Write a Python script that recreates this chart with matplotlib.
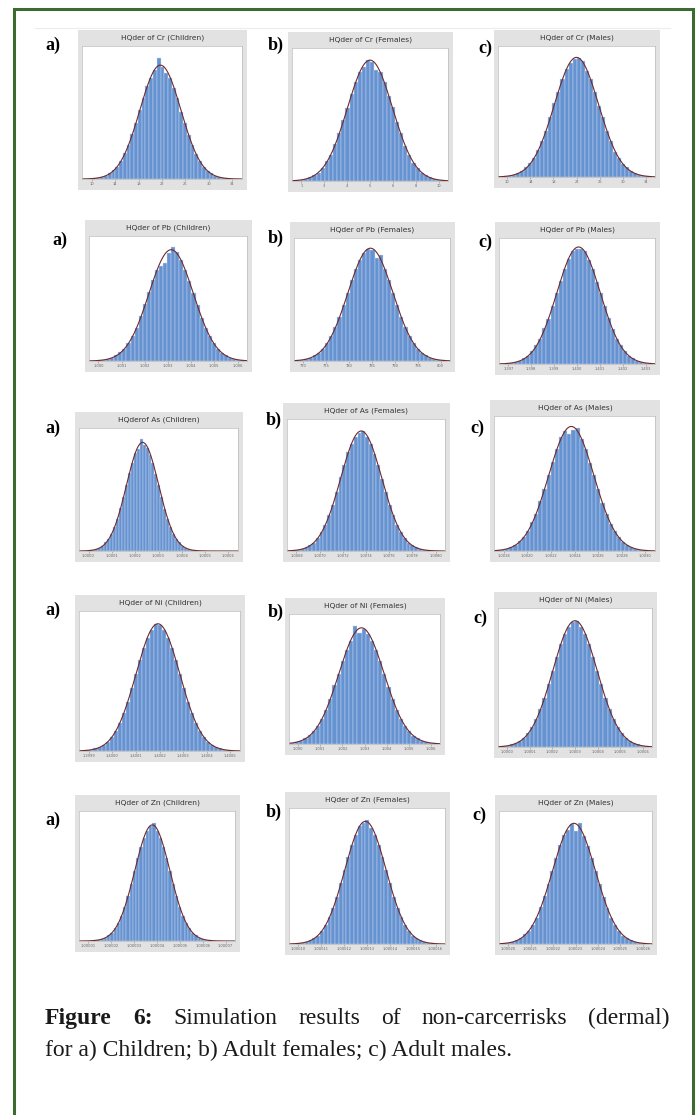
import numpy as np
import matplotlib
matplotlib.use('Agg')
import matplotlib.pyplot as plt
from matplotlib.patches import Rectangle

W, H = 700, 1115

# panel titles, row by row (Cr, Pb, As, Ni, Zn) x (Children, Females, Males)
titles = [
    'HQder of Cr (Children)', 'HQder of Cr (Females)', 'HQder of Cr (Males)',
    'HQder of Pb (Children)', 'HQder of Pb (Females)', 'HQder of Pb (Males)',
    'HQderof As (Children)', 'HQder of As (Females)', 'HQder of As (Males)',
    'HQder of Ni (Children)', 'HQder of Ni (Females)', 'HQder of Ni (Males)',
    'HQder of Zn (Children)', 'HQder of Zn (Females)', 'HQder of Zn (Males)',
]
panel_letters = ['a)', 'b)', 'c)']

# bar heights (relative frequency, % of peak)
cr_children = [0.5,1,2,3,5,8,11,16,23,30,40,50,62,72,83,90,97,108,100,95,90,81,72,60,50,39,30,22,16,11,7,5,3,2,1,0.5]
cr_females = [0.6,1,2,3,5,7,11,17,22,31,40,51,61,73,83,91,95,101,99,93,91,83,71,62,49,40,29,22,15,11,7,5,3,2,1,0.5]
cr_males = [0.5,1,2,3,5,8,12,16,23,30,39,50,62,71,82,91,96,99,100,97,89,82,71,60,50,39,30,21,16,11,8,5,3,2,1,0.6]
pb_children = [0.5,1,2,3,5,8,11,16,22,30,40,51,62,73,82,85,88,97,102,98,91,82,72,61,50,39,30,22,16,11,7,5,3,2,1,0.5]
pb_females = [0.6,1,2,3,5,7,11,16,22,30,39,50,61,72,82,90,97,100,99,92,95,82,72,61,50,39,30,22,16,11,7,5,3,2,1,0.6]
pb_males = [0.5,1,2,3,5,7,11,16,22,31,39,50,61,72,82,91,98,99,99,98,90,82,71,61,50,40,30,22,16,11,7,5,3,2,1,0.5]
as_children = [0.5,1,2,3,5,8,11,16,22,30,40,50,61,73,82,91,95,104,99,96,89,82,72,61,50,39,30,22,16,11,8,5,3,2,1,0.5]
as_females = [0.5,1,2,3,5,7,11,16,22,30,39,50,62,72,83,90,96,99,101,96,90,82,72,61,50,39,30,22,16,11,7,5,3,2,1,0.5]
as_males = [0.6,1,2,3,5,8,11,16,23,30,40,50,61,72,82,92,97,94,98,99,90,82,71,61,50,39,30,22,16,11,7,5,3,2,1,0.5]
ni_children = [0.5,1,2,3,5,7,11,16,22,30,39,50,61,72,82,90,96,101,100,96,90,82,72,61,50,39,30,22,16,11,7,5,3,2,1,0.5]
ni_females = [0.5,1,2,3,5,8,11,16,22,30,39,51,61,72,82,90,103,97,100,96,90,82,72,61,50,39,30,22,16,11,7,5,3,2,1,0.5]
ni_males = [0.5,1,2,3,5,7,11,16,22,30,39,50,61,72,82,90,96,100,101,96,90,82,72,61,50,39,30,22,16,11,7,5,3,2,1,0.6]
zn_children = [0.5,1,2,3,5,7,11,16,22,30,39,50,61,72,82,90,96,100,103,96,90,82,72,61,50,39,30,22,16,11,7,5,3,2,1,0.5]
zn_females = [0.5,1,2,3,5,7,11,16,22,30,39,50,61,72,82,90,97,100,102,96,90,82,72,61,50,39,30,22,16,11,7,5,3,2,1,0.5]
zn_males = [0.5,1,2,3,5,8,11,16,22,31,40,50,61,72,83,91,95,100,94,101,90,82,72,61,50,39,30,22,16,11,7,5,3,2,1,0.5]

series = [cr_children, cr_females, cr_males,
          pb_children, pb_females, pb_males,
          as_children, as_females, as_males,
          ni_children, ni_females, ni_males,
          zn_children, zn_females, zn_males]

# x tick labels (very small in the source, approximate)
tick_labels = [
    ['10', '14', '18', '22', '26', '30', '34'],
    ['1', '3', '4', '5', '6', '8', '10'],
    ['10', '14', '18', '22', '26', '30', '34'],
    ['1.000', '1.001', '1.002', '1.003', '1.004', '1.005', '1.006'],
    ['770', '775', '780', '785', '790', '795', '800'],
    ['1.397', '1.398', '1.399', '1.400', '1.401', '1.402', '1.403'],
    ['1.0000', '1.0001', '1.0002', '1.0003', '1.0004', '1.0005', '1.0006'],
    ['1.0068', '1.0070', '1.0072', '1.0074', '1.0076', '1.0078', '1.0080'],
    ['1.0018', '1.0020', '1.0022', '1.0024', '1.0026', '1.0028', '1.0030'],
    ['1.3999', '1.4000', '1.4001', '1.4002', '1.4003', '1.4004', '1.4005'],
    ['1.000', '1.001', '1.002', '1.003', '1.004', '1.005', '1.006'],
    ['1.0000', '1.0001', '1.0002', '1.0003', '1.0004', '1.0005', '1.0006'],
    ['1.00001', '1.00002', '1.00003', '1.00004', '1.00005', '1.00006', '1.00007'],
    ['1.00010', '1.00011', '1.00012', '1.00013', '1.00014', '1.00015', '1.00016'],
    ['1.00020', '1.00021', '1.00022', '1.00023', '1.00024', '1.00025', '1.00026'],
]

# layout in reference pixels: frame (x0, x1, ytop, ybottom), letter position
frames = [
    (78, 247, 30, 190), (288, 453, 32, 192), (494, 660, 30, 188),
    (85, 252, 220, 372), (290, 455, 222, 372), (495, 660, 222, 375),
    (75, 243, 412, 562), (283, 450, 403, 562), (490, 660, 400, 562),
    (75, 245, 595, 762), (285, 445, 598, 755), (494, 657, 592, 758),
    (75, 240, 795, 952), (285, 450, 792, 955), (495, 657, 795, 955),
]
letter_pos = [
    (45, 45), (268, 45), (478, 48),
    (52, 240), (268, 238), (478, 242),
    (45, 428), (266, 420), (470, 428),
    (45, 610), (268, 612), (473, 618),
    (45, 820), (266, 812), (472, 815),
]
# where the peak sits across the plot width, and how wide the bell body is
peak_frac = [0.49, 0.50, 0.50, 0.52, 0.49, 0.51, 0.40, 0.47, 0.48,
             0.49, 0.48, 0.50, 0.47, 0.49, 0.49]
body_frac = [0.66, 0.74, 0.72, 0.72, 0.74, 0.72, 0.52, 0.67, 0.72,
             0.70, 0.77, 0.74, 0.58, 0.68, 0.72]

bar_color = '#6592d0'
fit_color = '#6e2a2a'


def fbox(x0, x1, yt, yb):
    return [x0 / W, 1 - yb / H, (x1 - x0) / W, (yb - yt) / H]


fig = plt.figure(figsize=(7, 11.15), dpi=100)
fig.patch.set_facecolor('white')

# green outer border
fig.patches.append(Rectangle((14 / W, -0.01), (693 - 14) / W, 1 - 9 / H + 0.01,
                             transform=fig.transFigure, fill=False,
                             edgecolor='#3d6a2e', linewidth=2.2))
# faint line at top of pasted image
fig.add_artist(plt.Line2D([35 / W, 670 / W], [1 - 28 / H, 1 - 28 / H],
                          color='#ececec', linewidth=0.8))

for k in range(15):
    x0, x1, yt, yb = frames[k]
    # grey frame with title band
    fr = fig.add_axes(fbox(x0, x1, yt, yb))
    fr.set_facecolor('#e2e2e2')
    fr.set_xticks([]), fr.set_yticks([])
    for s in fr.spines.values():
        s.set_visible(False)
    fr.text(0.5, 1 - 8 / (yb - yt), titles[k], transform=fr.transAxes,
            ha='center', va='center', fontsize=5.4, color='#333333',
            family='DejaVu Sans')

    ax = fig.add_axes(fbox(x0 + 4, x1 - 5, yt + 16, yb - 11))
    h = np.array(series[k], dtype=float)
    idx = np.arange(len(h))
    ax.bar(idx, h, width=1.0, color=bar_color, edgecolor='#cfdcf0', linewidth=0.3)

    # normal fit from the binned values
    mu = np.sum(idx * h) / h.sum()
    sd = np.sqrt(np.sum(h * (idx - mu) ** 2) / h.sum())
    span = 28 / body_frac[k]
    lo = mu - peak_frac[k] * span
    hi = lo + span
    xs = np.linspace(lo, hi, 300)
    ax.plot(xs, h.sum() / (sd * np.sqrt(2 * np.pi)) * np.exp(-(xs - mu) ** 2 / (2 * sd ** 2)),
            color=fit_color, linewidth=0.8)
    ax.set_xlim(lo, hi)
    ax.set_ylim(0, max(h) * 1.1)
    ax.set_yticks([])
    ax.set_xticks(np.linspace(lo + span * 0.06, hi - span * 0.06, 7))
    ax.set_xticklabels(tick_labels[k], fontsize=2.6, color='#666666')
    ax.tick_params(axis='x', length=1.2, width=0.4, pad=1, color='#888888')
    for s in ax.spines.values():
        s.set_color('#bbbbbb')
        s.set_linewidth(0.5)

    lx, ly = letter_pos[k]
    fig.text(lx / W, 1 - ly / H, panel_letters[k % 3], ha='left', va='center',
             fontsize=13, fontweight='bold', family='Liberation Serif')

# caption, first line justified between x=45 and x=670
words = ['Figure', '6:', 'Simulation', 'results', 'of', 'non-carcerrisks', '(dermal)']
bold = [True, True, False, False, False, False, False]
y1 = 1 - 1024 / H
y2 = 1 - 1056 / H
renderer = fig.canvas.get_renderer()
txts = []
for w, b in zip(words, bold):
    t = fig.text(0, y1, w, fontsize=17, family='Liberation Serif',
                 fontweight='bold' if b else 'normal', color='#1a1a1a', va='baseline')
    txts.append(t)
widths = [t.get_window_extent(renderer).width for t in txts]
gap = ((670 - 45) - sum(widths)) / (len(words) - 1)
xpos = 45
for t, wd in zip(txts, widths):
    t.set_x(xpos / W)
    xpos += wd + gap
fig.text(45 / W, y2, 'for a) Children; b) Adult females; c) Adult males.', fontsize=17,
         family='Liberation Serif', color='#1a1a1a', va='baseline')

fig.savefig('out.png', dpi=100)
